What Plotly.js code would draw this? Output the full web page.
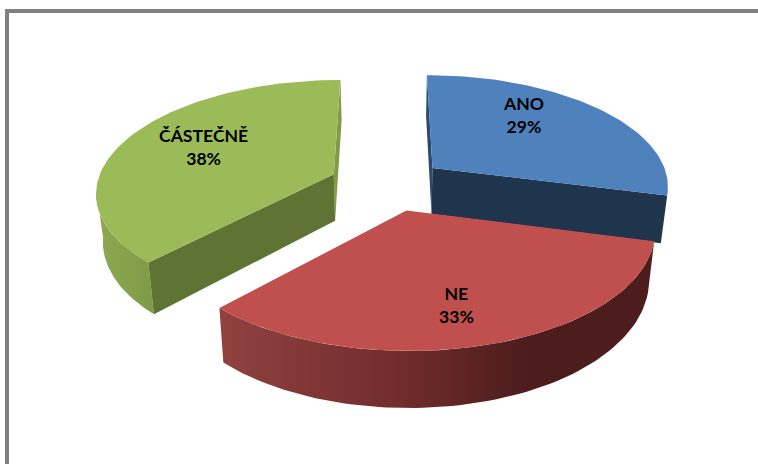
<!DOCTYPE html>
<html>
<head>
<meta charset="utf-8">
<script src="https://cdn.plot.ly/plotly-3.0.1.min.js"></script>
<style>html,body{margin:0;padding:0;background:#fff}#chart{width:758px;height:464px}</style>
</head>
<body>
<div id="chart"></div>
<script>
// Survey answers, clockwise from twelve o'clock
const categories = ['ANO', 'NE', 'ČÁSTEČNĚ'];
const shares = [29, 33, 38];

// Face colours per slice
const topColours = ['#4F81BD', '#C0504D', '#9BBB59'];
const cutColours = ['#1F344D', '#5A1F1D', '#5F7434'];
const backCutColours = ['#2C4A6E', '#5A1F1D', '#7F9B47'];
const wallStops = [
  [[0, '#1F344D'], [1, '#1F344D']],
  [[0, '#904240'], [0.45, '#6E2A2A'], [0.7, '#4D1D1D'], [1, '#4D1D1D']],
  [[0, '#8CAA4F'], [1, '#7F9A48']]
];
const labelAt = [[523, 115], [456, 305], [203, 147]];
const sliceNudge = [-1.5, 0, -4];

// Projection of the tilted, exploded pie onto the page (axes run in page pixels)
const cx = 390, cy = 184, rx = 237, ry = 111, persp = 0.148, explode = 0.24;
const project = (gx, gy) => {
  const d = 1 - persp * gy;
  return [cx + rx * gx / d, cy + ry * gy / d];
};
const lower = ([x, y]) => [cx + (x - cx) * 0.977, y * 1.06 + 36];
const rad = d => d * Math.PI / 180;

const total = shares.reduce((a, b) => a + b, 0);
let cursor = 0;
const slices = shares.map((v, i) => {
  const a0 = cursor, a1 = cursor + 360 * v / total;
  cursor = a1;
  const mid = rad((a0 + a1) / 2);
  const ox = explode * Math.sin(mid), oy = -explode * Math.cos(mid);
  const place = (gx, gy) => {
    const p = project(gx, gy);
    return [p[0] + sliceNudge[i], p[1]];
  };
  const rim = t => place(ox + Math.sin(rad(t)), oy - Math.cos(rad(t)));
  return { i, a0, a1, apex: place(ox, oy), rim };
});

const arc = (s, from, to) => {
  const n = 80, pts = [];
  for (let k = 0; k <= n; k++) pts.push(s.rim(from + (to - from) * k / n));
  return pts;
};
const face = (pts, colour, stops) => {
  const closed = pts.concat([pts[0]]);
  const t = {
    type: 'scatter', mode: 'lines', fill: 'toself', hoverinfo: 'skip', showlegend: false,
    x: closed.map(p => p[0]), y: closed.map(p => p[1]),
    line: { width: 0, color: colour }, fillcolor: colour
  };
  if (stops) t.fillgradient = { type: 'horizontal', colorscale: stops };
  return t;
};

const traces = [];
const [blue, red, green] = slices;

// Green slice: wall up to its leftmost point, both cut faces, top
const greenWall = arc(green, green.a0, 262);
traces.push(face(greenWall.concat(greenWall.map(lower).reverse()), '#8AA84E', wallStops[2]));
const gEnd = green.rim(green.a1), gStart = green.rim(green.a0);
traces.push(face([gEnd, green.apex, lower(green.apex), lower(gEnd)], backCutColours[2]));
traces.push(face([green.apex, gStart, lower(gStart), lower(green.apex)], cutColours[2]));
traces.push(face([green.apex].concat(arc(green, green.a0, green.a1)), topColours[2]));

// Blue slice: cut faces, top
const bStart = blue.rim(blue.a0), bEnd = blue.rim(blue.a1);
traces.push(face([bStart, blue.apex, lower(blue.apex), lower(bStart)], backCutColours[0]));
traces.push(face([blue.apex, bEnd, lower(bEnd), lower(blue.apex)], cutColours[0]));
traces.push(face([blue.apex].concat(arc(blue, blue.a0, blue.a1)), topColours[0]));

// Red slice: front wall, top
const redWall = arc(red, red.a0, red.a1);
traces.push(face(redWall.concat(redWall.map(lower).reverse()), '#6E2A2A', wallStops[1]));
traces.push(face([red.apex].concat(redWall), topColours[1]));

const layout = {
  width: 758, height: 464,
  margin: { l: 0, r: 0, t: 0, b: 0 },
  paper_bgcolor: '#fff', plot_bgcolor: '#fff', showlegend: false,
  xaxis: { range: [0, 758], visible: false, fixedrange: true },
  yaxis: { range: [464, 0], visible: false, fixedrange: true },
  shapes: [
    { type: 'line', x0: 7, x1: 7, y0: 9, y1: 464, line: { color: '#808080', width: 4 } },
    { type: 'line', x0: 5, x1: 758, y0: 11, y1: 11, line: { color: '#808080', width: 4 } }
  ],
  annotations: categories.map((c, i) => ({
    x: labelAt[i][0], y: labelAt[i][1], xref: 'x', yref: 'y', showarrow: false,
    text: c + '<br>' + shares[i] + '%',
    font: { family: 'Lato, Carlito, sans-serif', size: 17.6, color: '#000', weight: 700 }
  }))
};

Plotly.newPlot('chart', traces, layout, { displayModeBar: false, staticPlot: true });
</script>
</body>
</html>
